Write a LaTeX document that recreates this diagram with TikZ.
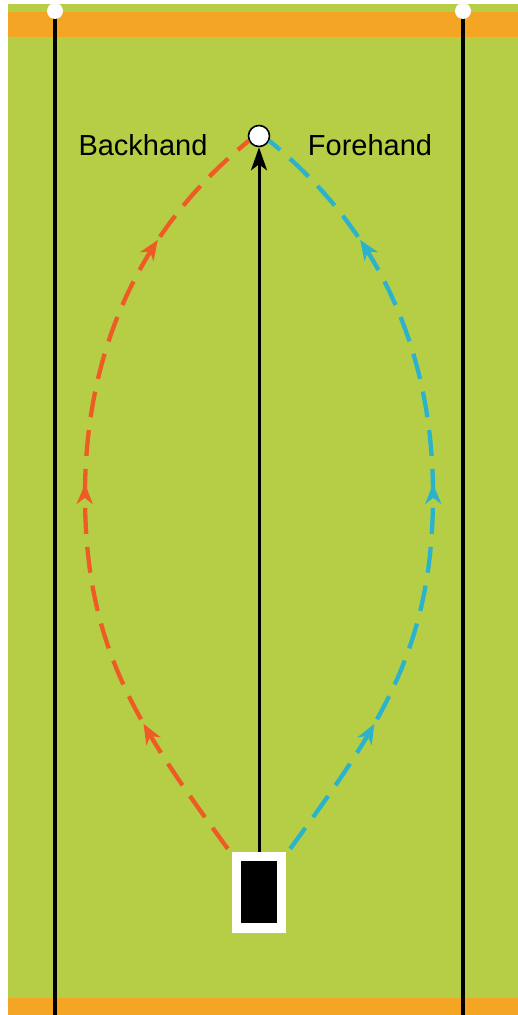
\documentclass[tikz,border=0pt]{standalone}
\usepackage{fontspec}
\setmainfont{Liberation Sans}
\usetikzlibrary{arrows.meta, positioning, decorations.markings, calc}
\definecolor{grass}{HTML}{B5CE46}
\definecolor{band}{HTML}{F5A524}
\definecolor{backc}{HTML}{EE5B25}
\definecolor{forec}{HTML}{2BB3CD}

\begin{document}
\begin{tikzpicture}[x=1pt, y=-1pt,
  post/.style={circle, fill=white, inner sep=0pt, minimum size=16pt},
  sideline/.style={line width=3.2pt, black},
  ball/.style={circle, draw=black, line width=1.6pt, fill=white,
    inner sep=0pt, minimum size=21pt},
  player/.style={rectangle, fill=white, inner sep=0pt,
    minimum width=54pt, minimum height=81pt},
  body/.style={rectangle, fill=black, inner sep=0pt,
    minimum width=36pt, minimum height=62pt},
  label/.style={anchor=base, font=\fontsize{29}{34}\selectfont},
  shot/.style={line width=3pt, -{Stealth[length=23pt, width=16pt, inset=6pt]}},
  swing/.style={line width=4.3pt, dash pattern=on 26pt off 13pt,
    postaction={decorate}, decoration={markings,
      mark=at position 0.19 with {\arrow{Stealth[length=20pt, width=16pt, inset=6pt]}},
      mark=at position 0.505 with {\arrow{Stealth[length=20pt, width=16pt, inset=6pt]}},
      mark=at position 0.83 with {\arrow{Stealth[length=20pt, width=16pt, inset=6pt]}}}}
]
  % court
  \useasboundingbox (0,0) rectangle (518,1015);
  \fill[white] (0,0) rectangle (518,1015);
  \fill[grass] (8,4) rectangle (518,1015);
  \fill[band] (8,12) rectangle (518,37);
  \fill[band] (8,998) rectangle (518,1015);

  % side lines
  \coordinate (baseL) at (55,1015);
  \coordinate (baseR) at (463,1015);
  \draw[sideline] (55,11) -- (baseL);
  \draw[sideline] (463,11) -- (baseR);
  \node[post] (postL) at (55,11) {};
  \node[post] (postR) at (463,11) {};

  % player and ball
  \node[player] (player) at (259,892.5) {};
  \node[body]   (body)   at (259,892) {};
  \node[ball]   (ball)   at (259,136) {};

  \node[label] (backhand) at (143,155) {Backhand};
  \node[label] (forehand) at (370,155) {Forehand};

  % paths
  \draw[shot] (player.north) -- (ball.south);
  \draw[swing, backc] ($(player.north west)+(-4,-3)$)
    .. controls (140,728) and (85,650) .. (85,495)
    .. controls (85,290) and (195,185) .. (ball.205);
  \draw[swing, forec] ($(player.north east)+(4,-3)$)
    .. controls (378,728) and (433,650) .. (433,495)
    .. controls (433,290) and (323,185) .. (ball.-25);
\end{tikzpicture}
\end{document}
